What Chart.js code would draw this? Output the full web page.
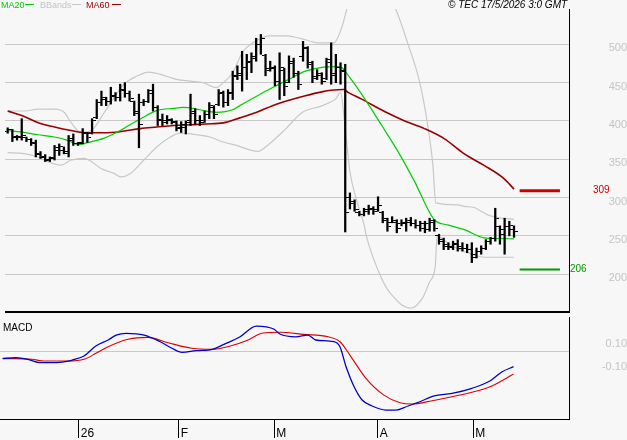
<!DOCTYPE html>
<html><head><meta charset="utf-8">
<script src="https://cdn.jsdelivr.net/npm/chart.js@4.4.1/dist/chart.umd.min.js"></script>
<style>
html,body{margin:0;padding:0;background:#f7f7f7;width:627px;height:440px;overflow:hidden;font-family:"Liberation Sans",Arial,sans-serif;}
#cp{position:absolute;left:0;top:0;width:627px;height:317px;}
#cm{position:absolute;left:0;top:317px;width:627px;height:123px;}
.t{position:absolute;white-space:nowrap;line-height:1;}
.ln{position:absolute;height:1px;width:9px;}
</style></head><body>
<canvas id="cp" width="627" height="317"></canvas>
<canvas id="cm" width="627" height="123"></canvas>
<div class="t" style="left:1px;top:1px;font-size:9px;color:#00cc00">MA20</div>
<div class="ln" style="left:25px;top:4px;background:#00cc00"></div>
<div class="t" style="left:40px;top:1px;font-size:9px;color:#c4c4c4">BBands</div>
<div class="ln" style="left:72px;top:4px;background:#c4c4c4"></div>
<div class="t" style="left:86px;top:1px;font-size:9px;color:#990000">MA60</div>
<div class="ln" style="left:112px;top:4px;background:#990000"></div>
<div class="t" style="left:448px;top:0px;font-size:10px;font-style:italic;color:#000">© TEC 17/5/2026 3:0 GMT</div>
<div class="t" style="left:3px;top:323px;font-size:10px;color:#000">MACD</div>
<script>
// ---- data ----
const open = [386,389,378,380,378,376,372,358,352,349,352,362,362,358,375,370,372,384,384,405,424,428,426,432,430,441,436,425,412,424,426,440,418,402,400,400,398,390,392,400,410,400,400,408,418,422,436,424,436,460,462,470,476,484,500,486,468,468,452,466,450,475,462,484,494,474,458,460,456,480,460,470,466,300,292,280,278,282,284,284,280,270,268,268,266,266,268,266,264,266,266,268,250,245,238,236,238,236,234,232,226,230,234,242,246,262,258,262,258];
const high = [391,389,381,403,379,377,375,360,356,353,368,370,366,381,383,372,390,385,403,428,439,431,444,437,448,450,439,426,435,428,441,448,420,409,407,403,400,399,400,435,416,407,413,424,420,441,439,441,465,472,491,487,489,508,513,487,478,472,489,469,485,482,465,504,497,478,467,463,482,502,487,476,474,306,297,282,286,290,288,301,282,273,275,271,271,273,274,271,269,269,273,271,252,247,241,243,245,241,239,241,234,237,245,248,286,263,273,269,263];
const low = [384,373,375,375,373,368,353,351,347,347,349,355,357,353,368,368,370,372,383,403,420,420,422,426,426,431,426,407,365,420,424,413,394,394,396,396,387,385,383,394,396,394,398,403,403,420,418,420,428,454,439,454,463,478,487,459,465,446,428,433,450,457,441,478,469,450,454,448,454,448,450,448,255,285,282,276,276,278,278,282,267,256,267,254,263,256,263,260,256,254,256,256,239,232,232,232,230,230,228,215,221,226,232,239,243,239,226,250,248];
const close = [389,380,379,381,376,371,356,353,350,351,365,366,360,377,370,371,385,378,401,424,430,425,433,430,440,436,429,410,395,425,436,418,400,398,402,399,392,396,398,412,401,398,408,420,409,437,424,437,458,460,470,478,482,500,508,466,470,452,470,445,478,462,448,496,476,456,462,452,476,462,470,465,280,295,285,278,284,286,282,290,272,262,270,260,268,270,266,264,260,258,270,260,242,236,235,240,234,234,232,222,230,234,242,246,272,252,262,264,255];

const ma20 = [[0,387.5],[3,385.4],[6.5,382],[10,379],[12.8,374.6],[15,369],[17,371.6],[20.6,377.6],[24,387.5],[26.9,398],[28.3,402.6],[31.8,413.4],[35.4,416.5],[37.5,417.7],[41,414.6],[44.5,411.3],[48,414.6],[49.5,420],[53,432],[56.5,443.6],[60,454.4],[63.5,465],[67,470],[70.3,471],[71.3,469.5],[73,456.5],[76.2,428.5],[79.8,394],[83.3,359.6],[86.8,320.8],[91,271],[94,264],[97.4,258],[101.6,247.4],[104.4,246.5],[108,246]];
const ma60 = [[0,413],[3,407],[6.4,398],[10,392],[13.5,387.5],[17,384.5],[20.6,384.5],[24,386],[28.3,390],[31.8,392],[35.4,394],[39,395],[42.3,396],[46,397.5],[49.5,404],[53,411],[56.5,420],[60,427],[63.5,433],[67,438],[69,440],[71.7,441],[72.7,437],[75.5,428.5],[80.5,412],[84.7,400],[88.9,390],[93.1,377],[97.4,357],[101.6,342],[105.8,325],[108,311]];
const bbUpper = [[0,413],[3.7,413],[6.4,415.5],[10,415.5],[12.1,411],[13.5,398],[15.6,385.4],[17.8,387.5],[20.6,411],[22.7,430.7],[24.8,448],[27.6,458.6],[30.1,463.8],[32.6,460.8],[36,454.4],[38.9,452],[41.7,450],[44.5,443.6],[46,450],[48,463],[50.2,491],[52.3,502],[53.7,507],[55.8,511],[59.3,511],[61.6,509],[63.5,506],[66.2,502],[69.6,502],[71.3,523],[72.4,547],[74,570],[77,582],[80,575],[82.7,547],[85.3,502],[87.9,450],[89.6,394],[90.7,342],[91.3,293],[96,290.5],[97.4,288.4],[99.5,287],[101,282],[102.3,277.6],[105,273.3],[108,271.5]];
const bbLower = [[0,358.6],[3.5,357.4],[6.5,353],[8.6,346.6],[11.4,342.2],[13.5,348.7],[16.3,351],[17.4,348.7],[19.9,338],[22.7,331.5],[24.1,327],[26.2,331.5],[29,348.7],[31.8,366],[34.7,379],[36.8,384],[40.3,382],[43.1,379],[46,372.5],[48.8,368],[53.3,360.3],[55.8,370],[59.3,389.7],[62.8,411],[67.1,420],[69.9,428.5],[71,437],[72,390],[73,334],[74.5,295],[76,265],[76.6,247.6],[79,205],[81,180],[82.7,167.6],[84,160],[86,155.6],[88.6,170],[90,190],[91.2,210],[91.6,250],[94,240],[96,233],[98,228],[100,224],[102,222],[105,222],[108,222]];

const macd = [[0,-0.06],[2.8,-0.052],[5.3,-0.066],[7.9,-0.095],[12.1,-0.092],[14.7,-0.072],[17.2,-0.037],[19.7,0.05],[22.3,0.102],[24,0.145],[26.1,0.16],[29.9,0.145],[33.3,0.087],[35.8,0.03],[37.9,-0.005],[40.9,0.009],[44.3,0.021],[46.8,0.064],[50.2,0.13],[53.6,0.223],[55.7,0.217],[57.4,0.195],[58.6,0.154],[62,0.13],[64.5,0.145],[66.2,0.102],[70,0.087],[71.3,0.043],[72.6,-0.13],[74.3,-0.304],[76,-0.42],[78.1,-0.472],[81,-0.507],[83.1,-0.507],[85.7,-0.472],[88.2,-0.435],[91.2,-0.383],[95,-0.362],[99.2,-0.318],[103,-0.255],[105.6,-0.174],[108,-0.13]];
const signal = [[0,-0.058],[6.2,-0.066],[8.7,-0.081],[13.8,-0.081],[17.2,-0.066],[19.7,-0.014],[22.3,0.043],[26.5,0.108],[30.7,0.125],[35,0.078],[40,0.03],[44.3,0.021],[47.6,0.043],[51.9,0.102],[54.8,0.16],[58.6,0.169],[63.7,0.151],[68.8,0.13],[71.3,0.087],[73.4,-0.029],[76.8,-0.231],[80.6,-0.377],[84,-0.443],[86.5,-0.455],[90.8,-0.426],[99.2,-0.353],[103.4,-0.298],[108,-0.194]];

const priceTicks = [200,250,300,350,400,450,500];
const macdTicks = [-0.1,0,0.1];
const monthPos = [16.1,37.2,57.4,79.3,99.5];
const monthLabels = ['26','F','M','A','M'];
const markerX = [109.2,117.8];
const lastMA60 = 309;
const lastLow = 206;

// ---- layout constants ----
const xMin = -0.571, xMax = 119.73;
const FONT = "'Liberation Sans', Arial, sans-serif";
Chart.defaults.font.family = FONT;

const pts = a => a.map(p => ({x:p[0], y:p[1]}));
function tickImg(side){
  const c = document.createElement('canvas'); c.width = 8; c.height = 1;
  const g = c.getContext('2d'); g.fillStyle = '#000';
  g.fillRect(side === 'l' ? 0 : 5, 0, 3, 1);
  return c;
}
const idx = open.map((_, i) => i);
const fitW = s => { s.width = 58; s.paddingTop = 0; s.paddingBottom = 0; };

const priceFrame = {
  id: 'priceFrame',
  afterDatasetsDraw(chart){
    const {ctx, chartArea:a, scales:{y}} = chart;
    ctx.save();
    ctx.fillStyle = '#000';
    ctx.fillRect(a.left, a.bottom - 1, a.right - a.left, 2);
    ctx.font = "10px " + FONT;
    ctx.textBaseline = 'middle';
    ctx.textAlign = 'left';
    ctx.fillStyle = '#cc0000';
    ctx.fillText(String(lastMA60), 593, y.getPixelForValue(lastMA60));
    ctx.fillStyle = '#009900';
    ctx.fillText(String(lastLow), 570, y.getPixelForValue(lastLow));
    ctx.restore();
  }
};

const lineDs = (data, color, w) => ({type:'line', data: pts(data), borderColor: color, borderWidth: w, pointRadius: 0, fill: false, cubicInterpolationMode: 'monotone'});

new Chart(document.getElementById('cp'), {
  type: 'line',
  data: { datasets: [
    {type:'bar', data: idx.map(i => ({x:i, y:[low[i], high[i]]})), backgroundColor:'#000', barThickness:1.6, grouped:false, borderWidth:0},
    {type:'line', showLine:false, data: idx.map(i => ({x:i, y:open[i]})), pointStyle: tickImg('l'), pointRadius: 4},
    {type:'line', showLine:false, data: idx.map(i => ({x:i, y:close[i]})), pointStyle: tickImg('r'), pointRadius: 4},
    lineDs(ma20, '#00cc00', 1.2),
    lineDs(ma60, '#990000', 1.6),
    lineDs(bbUpper, '#c8c8c8', 1.2),
    lineDs(bbLower, '#c8c8c8', 1.2),
    {type:'line', data: markerX.map(x => ({x, y:lastMA60})), borderColor:'#cc0000', borderWidth:3, pointRadius:0, clip:false},
    {type:'line', data: markerX.map(x => ({x, y:lastLow})), borderColor:'#009900', borderWidth:2, pointRadius:0, clip:false}
  ]},
  options: {
    responsive: false, animation: false, events: [], devicePixelRatio: 1,
    layout: {padding: {top: 9, bottom: 2, left: 0, right: 0}},
    plugins: {legend: {display:false}, tooltip: {enabled:false}},
    scales: {
      x: {type:'linear', min:xMin, max:xMax, display:false, offset:false},
      y: {position:'right', min:150.5, max:546.2,
          afterBuildTicks: s => { s.ticks = priceTicks.map(v => ({value:v})); },
          afterFit: fitW,
          grid: {color:'#c8c8c8', drawTicks:false, lineWidth:1},
          border: {display:true, color:'#000', width:1},
          ticks: {color:'#c4c4c4', font:{size:11}, padding:33, crossAlign:'far', labelOffset:4}
      }
    }
  },
  plugins: [priceFrame]
});

new Chart(document.getElementById('cm'), {
  type: 'line',
  data: { datasets: [
    {data: pts(macd), borderColor:'#0000cc', borderWidth:1.3, pointRadius:0, cubicInterpolationMode:'monotone'},
    {data: pts(signal), borderColor:'#dd0000', borderWidth:1.1, pointRadius:0, cubicInterpolationMode:'monotone'}
  ]},
  options: {
    responsive: false, animation: false, events: [], devicePixelRatio: 1,
    layout: {padding: 0},
    plugins: {legend: {display:false}, tooltip: {enabled:false}},
    scales: {
      x: {type:'linear', min:xMin, max:xMax, offset:false, position:'bottom',
          afterBuildTicks: s => { s.ticks = monthPos.map(v => ({value:v})); },
          afterFit: s => { s.height = 21; s.paddingLeft = 0; s.paddingRight = 0; },
          grid: {drawOnChartArea:false, drawTicks:true, tickLength:19, tickColor:'#000', tickWidth:1},
          border: {display:true, color:'#000', width:1},
          ticks: {color:'#000', font:{size:12}, align:'start', padding:-12, labelOffset:2, maxRotation:0, autoSkip:false,
                  callback: (v, i) => monthLabels[i]}
      },
      y: {position:'right', min:-0.585, max:0.302,
          afterBuildTicks: s => { s.ticks = macdTicks.map(v => ({value:v})); },
          afterFit: fitW,
          grid: {drawTicks:false, color: c => (c.tick && c.tick.value === 0) ? '#c8c8c8' : 'rgba(0,0,0,0)'},
          border: {display:true, color:'#000', width:1},
          ticks: {color:'#c4c4c4', font:{size:11}, padding:27, crossAlign:'far', labelOffset:4,
                  callback: v => v === 0 ? '' : v.toFixed(2)}
      }
    }
  }
});
</script>
</body></html>
